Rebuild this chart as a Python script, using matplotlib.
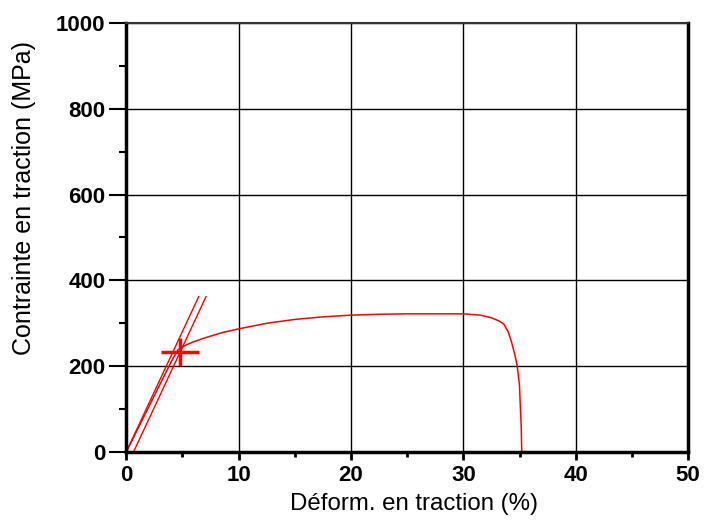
import matplotlib.pyplot as plt
from matplotlib.ticker import MultipleLocator

# tensile curve (strain %, stress MPa)
strain = [0.0, 2.0, 4.0, 4.6, 5.2, 6.0, 7.0, 8.5, 10.0, 12.5, 15.0, 17.5, 20.0, 22.5, 25.0,
          27.5, 30.0, 31.5, 32.5, 33.2, 33.6, 34.0, 34.3, 34.6, 34.8, 35.0, 35.05, 35.15, 35.2]
stress = [0.0, 105, 210, 238, 248, 257, 266, 278, 287, 300, 309, 315, 319, 321, 322,
          322, 322, 319, 313, 305, 298, 280, 255, 225, 200, 155, 120, 60, 0]

# two parallel elastic lines (0 and ~0.6 % offset)
line1_x = [0.0, 6.45]
line1_y = [0.0, 362]
line2_x = [0.65, 7.1]
line2_y = [0.0, 362]

# yield point marker
yield_x = [4.8]
yield_y = [232]

fig = plt.figure(figsize=(7.05, 5.21), dpi=100)
ax = fig.add_axes([0.179, 0.1324, 0.797, 0.8236])

ax.plot(strain, stress, color="#ff0000", lw=1.1)
ax.plot(line1_x, line1_y, color="#ff0000", lw=1.0)
ax.plot(line2_x, line2_y, color="#ff0000", lw=1.0)
ax.plot(yield_x, yield_y, marker="_", color="#ff0000", ms=27, mew=2.5, ls="none")
ax.plot(yield_x, yield_y, marker="|", color="#ff0000", ms=20, mew=2.5, ls="none")

ax.set_xlim(0, 50)
ax.set_ylim(0, 1000)
ax.xaxis.set_major_locator(MultipleLocator(10))
ax.xaxis.set_minor_locator(MultipleLocator(5))
ax.yaxis.set_major_locator(MultipleLocator(200))
ax.yaxis.set_minor_locator(MultipleLocator(100))
ax.grid(True, which="major", color="black", lw=1.0)
ax.set_axisbelow(True)

ax.tick_params(axis="x", which="major", direction="out", length=6, width=2, pad=3)
ax.tick_params(axis="x", which="minor", direction="out", length=3.5, width=2)
ax.tick_params(axis="y", which="major", direction="out", length=12, width=1.5, pad=3)
ax.tick_params(axis="y", which="minor", direction="out", length=5, width=1.5)

for lab in ax.get_xticklabels() + ax.get_yticklabels():
    lab.set_fontfamily("Liberation Sans")
    lab.set_fontweight("bold")
    lab.set_fontsize(16)

ax.spines["left"].set_linewidth(2.5)
ax.spines["bottom"].set_linewidth(2.5)
ax.spines["right"].set_linewidth(2.5)
ax.spines["top"].set_linewidth(1.5)
ax.spines["top"].set_color("#333333")

ax.set_xlabel("Déform. en traction (%)", fontfamily="Liberation Sans", fontsize=17.3, va="center")
ax.set_ylabel("Contrainte en traction (MPa)", fontfamily="Liberation Sans", fontsize=18, va="center")
ax.xaxis.set_label_coords(0.513, -0.12)
ax.yaxis.set_label_coords(-0.181, 0.592)

fig.savefig("out.png", dpi=100)
